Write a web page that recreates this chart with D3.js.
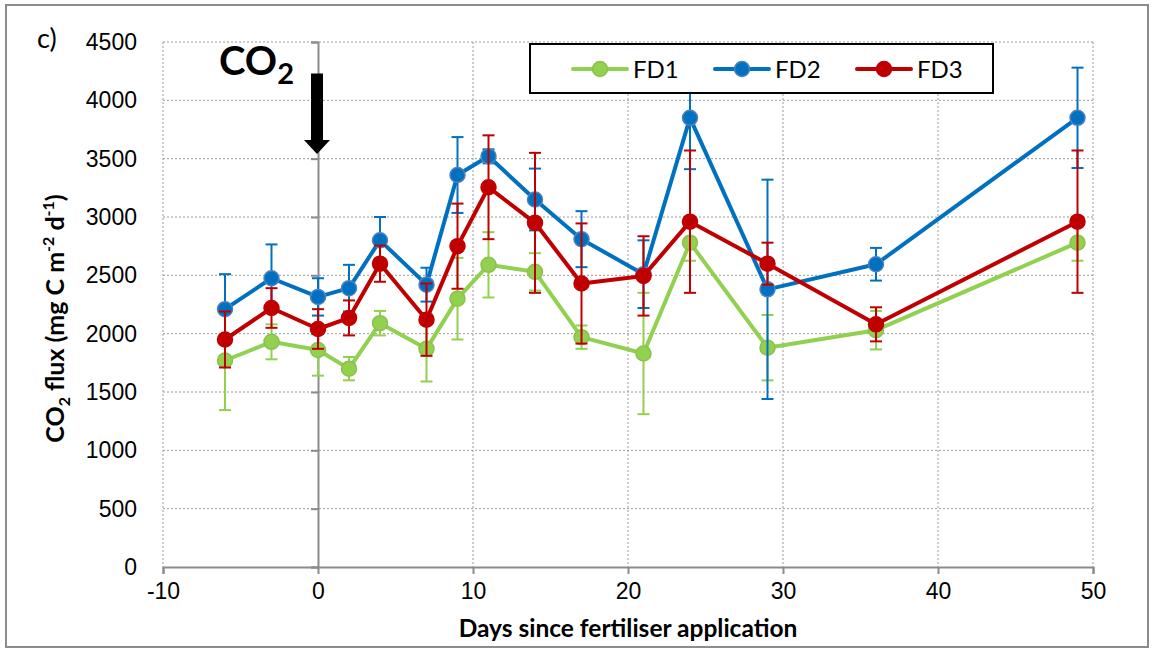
<!DOCTYPE html>
<html>
<head>
<meta charset="utf-8">
<script src="https://cdn.jsdelivr.net/npm/d3@7"></script>
<style>
  html, body { margin: 0; padding: 0; background: #fff; overflow: hidden; }
  svg { display: block; font-family: Lato, "Open Sans", sans-serif; }
</style>
</head>
<body>
<svg id="chart" width="1152" height="649"></svg>
<script>
// days since fertiliser application
const days = [-6, -3, 0, 2, 4, 7, 9, 11, 14, 17, 21, 24, 29, 36, 49];

// mean CO2 flux per series (mg C m-2 d-1)
const fd1 = [1770, 1930, 1860, 1700, 2090, 1870, 2300, 2590, 2530, 1970, 1830, 2780, 1880, 2030, 2780];
const fd2 = [2210, 2475, 2315, 2390, 2800, 2420, 3360, 3520, 3150, 2810, 2510, 3850, 2380, 2595, 3850];
const fd3 = [1950, 2220, 2040, 2135, 2600, 2120, 2750, 3255, 2950, 2430, 2495, 2960, 2600, 2080, 2960];

// error bar half widths (+/-)
const fd1Err = [425, 150, 220, 100, 105, 280, 350, 280, 160, 100, 520, 155, 280, 165, 155];
const fd2Err = [300, 290, 160, 200, 200, 145, 325, 60, 265, 240, 290, 440, 940, 140, 430];
const fd3Err = [240, 170, 170, 150, 155, 310, 365, 445, 600, 515, 340, 610, 180, 146, 610];

const seriesNames = ["FD1", "FD2", "FD3"];
const xTicks = [-10, 0, 10, 20, 30, 40, 50];
const yTicks = [0, 500, 1000, 1500, 2000, 2500, 3000, 3500, 4000, 4500];

const series = [
    { name: seriesNames[0], values: fd1, err: fd1Err, color: "#92D050", edge: "#8CC04E" },
    { name: seriesNames[1], values: fd2, err: fd2Err, color: "#0070C0", edge: "#4F81BD" },
    { name: seriesNames[2], values: fd3, err: fd3Err, color: "#C00000", edge: "#C00000" }
];

const WIDTH = 1152, HEIGHT = 649;
const margin = { top: 42, right: 59, bottom: 82, left: 163 };
const innerWidth = WIDTH - margin.left - margin.right;
const innerHeight = HEIGHT - margin.top - margin.bottom;

const svg = d3.select("#chart");

// outer frame
svg.append("rect")
    .attr("x", 6).attr("y", 5)
    .attr("width", 1142).attr("height", 642)
    .attr("fill", "#fff")
    .attr("stroke", "#8c8c8c")
    .attr("stroke-width", 2);

const g = svg.append("g")
    .attr("transform", `translate(${margin.left},${margin.top})`);

const x = d3.scaleLinear().domain([-10, 50]).range([0, innerWidth]);
const y = d3.scaleLinear().domain([0, 4500]).range([innerHeight, 0]);

// dotted gridlines
g.append("g")
    .selectAll("line")
    .data(yTicks.filter(d => d > 0))
    .join("line")
    .attr("x1", 0).attr("x2", innerWidth)
    .attr("y1", d => y(d)).attr("y2", d => y(d))
    .attr("stroke", "#9a9a9a")
    .attr("stroke-dasharray", "2,2");

g.append("g")
    .selectAll("line")
    .data(xTicks.filter(d => d !== 0))
    .join("line")
    .attr("x1", d => x(d)).attr("x2", d => x(d))
    .attr("y1", 0).attr("y2", innerHeight)
    .attr("stroke", "#9a9a9a")
    .attr("stroke-dasharray", "2,2");

// x axis (at y = 0)
const xAxis = g.append("g")
    .attr("transform", `translate(0,${innerHeight})`)
    .call(d3.axisBottom(x).tickValues(xTicks).tickSize(7).tickPadding(9).tickFormat(d => String(d)));

// y axis line crosses at day 0 (ticks only)
const yAxis = g.append("g")
    .attr("transform", `translate(${x(0)},0)`)
    .call(d3.axisLeft(y).tickValues(yTicks).tickSize(7));
yAxis.selectAll(".tick text").remove();

[xAxis, yAxis].forEach(a => {
    a.select(".domain").attr("stroke", "#8c8c8c").attr("stroke-width", 2);
    a.selectAll(".tick line").attr("stroke", "#8c8c8c").attr("stroke-width", 2);
});
xAxis.selectAll(".tick text")
    .attr("fill", "#000")
    .style("font-size", "23px");

// y labels sit at the plot's left edge
const yLabels = g.append("g")
    .call(d3.axisLeft(y).tickValues(yTicks).tickSize(0).tickPadding(26).tickFormat(d => String(d)));
yLabels.select(".domain").remove();
yLabels.selectAll(".tick text")
    .attr("fill", "#000")
    .style("font-size", "23px");

// series: error bars, line, markers
const capW = 6;
const line = d3.line()
    .x((d, i) => x(days[i]))
    .y(d => y(d));

series.forEach(s => {
    const sg = g.append("g");
    const bars = sg.selectAll(".err")
        .data(s.values.map((v, i) => ({ day: days[i], v, e: s.err[i] })))
        .join("g");
    bars.append("line")
        .attr("x1", d => x(d.day)).attr("x2", d => x(d.day))
        .attr("y1", d => y(d.v + d.e)).attr("y2", d => y(d.v - d.e))
        .attr("stroke", s.color).attr("stroke-width", 2);
    [1, -1].forEach(sign => {
        bars.append("line")
            .attr("x1", d => x(d.day) - capW).attr("x2", d => x(d.day) + capW)
            .attr("y1", d => y(d.v + sign * d.e)).attr("y2", d => y(d.v + sign * d.e))
            .attr("stroke", s.color).attr("stroke-width", 2);
    });

    sg.append("path")
        .datum(s.values)
        .attr("fill", "none")
        .attr("stroke", s.color)
        .attr("stroke-width", 4)
        .attr("stroke-linejoin", "round")
        .attr("d", line);

    sg.selectAll("circle")
        .data(s.values)
        .join("circle")
        .attr("cx", (d, i) => x(days[i]))
        .attr("cy", d => y(d))
        .attr("r", 7.5)
        .attr("fill", s.color)
        .attr("stroke", s.edge)
        .attr("stroke-width", 1.5);
});

// CO2 application arrow at day 0
const arrowTop = y(4230), arrowTip = y(3540), ax = x(0) - 1;
g.append("path")
    .attr("d", `M${ax - 6},${arrowTop} L${ax + 6},${arrowTop} L${ax + 6},${arrowTip - 14}
        L${ax + 13},${arrowTip - 14} L${ax},${arrowTip} L${ax - 13},${arrowTip - 14}
        L${ax - 6},${arrowTip - 14} Z`)
    .attr("fill", "#000");

const co2 = g.append("text")
    .attr("x", x(0) - 99)
    .attr("y", y(4220))
    .style("font-size", "40px")
    .style("font-weight", "bold");
co2.append("tspan").text("CO");
co2.append("tspan").attr("dy", 9).style("font-size", "29px").text("2");

// legend
const legend = g.append("g").attr("transform", `translate(${530 - margin.left},${44 - margin.top})`);
legend.append("rect")
    .attr("width", 463).attr("height", 49)
    .attr("fill", "#fff")
    .attr("stroke", "#000")
    .attr("stroke-width", 2);
series.forEach((s, i) => {
    const lx = 43 + i * 142;
    const li = legend.append("g").attr("transform", `translate(${lx},25)`);
    li.append("line")
        .attr("x1", 0).attr("x2", 54)
        .attr("stroke", s.color).attr("stroke-width", 4).attr("stroke-linecap", "round");
    li.append("circle")
        .attr("cx", 27).attr("r", 7.5)
        .attr("fill", s.color).attr("stroke", s.edge).attr("stroke-width", 1.5);
    li.append("text")
        .attr("x", 60).attr("dy", "0.36em")
        .style("font-size", "24px")
        .text(s.name);
});

// axis titles
svg.append("text")
    .attr("x", margin.left + innerWidth / 2)
    .attr("y", 637)
    .attr("text-anchor", "middle")
    .style("font-size", "24.5px")
    .style("font-weight", "bold")
    .text("Days since fertiliser application");

const yTitle = svg.append("text")
    .attr("transform", `translate(64,${margin.top + innerHeight / 2 + 14}) rotate(-90)`)
    .attr("text-anchor", "middle")
    .style("font-size", "25px")
    .style("font-weight", "bold");
yTitle.append("tspan").text("CO");
yTitle.append("tspan").attr("dy", 6).style("font-size", "16px").text("2");
yTitle.append("tspan").attr("dy", -6).text(" flux (mg C m");
yTitle.append("tspan").attr("dy", -10).style("font-size", "16px").text("-2");
yTitle.append("tspan").attr("dy", 10).text(" d");
yTitle.append("tspan").attr("dy", -10).style("font-size", "16px").text("-1");
yTitle.append("tspan").attr("dy", 10).text(")");

// panel label
svg.append("text")
    .attr("x", 37).attr("y", 48)
    .style("font-size", "27px")
    .text("c)");
</script>
</body>
</html>
